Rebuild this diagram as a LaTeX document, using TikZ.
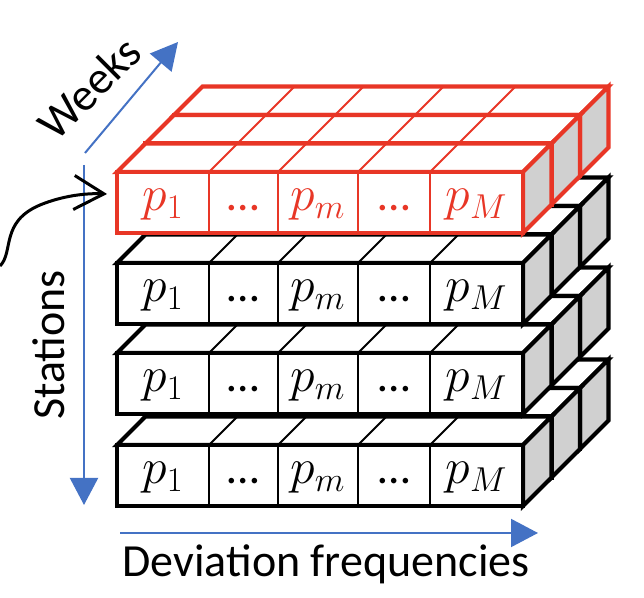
\documentclass[tikz,border=0pt]{standalone}
\usepackage{fontspec}
\setmainfont{Carlito}
\usepackage{xcolor}
\usepackage{tikz}
\usetikzlibrary{arrows.meta,positioning,calc}

\definecolor{slabred}{RGB}{232,54,38}
\definecolor{axisblue}{RGB}{68,114,196}
\definecolor{sidegray}{RGB}{208,208,208}

\begin{document}
\begin{tikzpicture}[
    x=0.5pt, y=-0.5pt,
    slabline/.style={line width=2.1pt},
    divider/.style={line width=1pt},
    axis/.style={draw=axisblue, line width=1pt, -{Triangle[length=13.5pt, width=14pt]}},
    cell/.style={font=\fontsize{23}{26}\selectfont, inner sep=0pt, anchor=base},
    axislabel/.style={font=\fontsize{23}{26}\selectfont, inner sep=0pt}
]
    \useasboundingbox (0,0) rectangle (644,598);

    % slabs, bottom to top, each one back to front
    \foreach \top/\col in {445/black, 353/black, 263/black, 172/slabred}{
        \foreach \k in {2,1,0}{
            \begin{scope}[shift={(28.5*\k,-28.5*\k)}, color=\col]
                \filldraw[fill=white, slabline] (117,\top) -- (523,\top) -- ++(28.5,-28.5) -- (145.5,\top-28.5) -- cycle;
                \foreach \x in {209,278,358,430}
                    \draw[divider] (\x,\top) -- ++(28.5,-28.5);
                \filldraw[fill=sidegray, slabline] (523,\top) -- ++(28.5,-28.5) -- ++(0,61) -- (523,\top+61) -- cycle;
                \filldraw[fill=white, slabline] (117,\top) rectangle (523,\top+61);
                \foreach \x in {209,278,358,430}
                    \draw[divider] (\x,\top) -- (\x,\top+61);
            \end{scope}
        }
    }

    % cell labels on the front rows
    \foreach \top/\col/\s in {172/slabred/1, 263/black/2, 353/black/3, 445/black/4}{
        \foreach \cx/\lab [count=\i] in {163/{$p_1$}, 243.5/{\ldots}, 318/{$p_m$}, 394/{\ldots}, 476.5/{$p_M$}}
            \node[cell, text=\col] (cell-\s-\i) at (\cx,\top+39) {\lab};
    }

    % axes
    \coordinate (wk-start) at (85,153);
    \coordinate (wk-end) at (178,42);
    \coordinate (st-start) at (84,165);
    \coordinate (st-end) at (84,505);
    \coordinate (df-start) at (120,533);
    \coordinate (df-end) at (538,533);
    \draw[axis] (wk-start) -- (wk-end);
    \draw[axis] (st-start) -- (st-end);
    \draw[axis] (df-start) -- (df-end);

    \node[axislabel, rotate=45] (weeks) at (89,88) {Weeks};
    \node[axislabel, rotate=90] (stations) at (49,345) {Stations};
    \node[axislabel, anchor=base] (devfreq) at (326,577) {Deviation frequencies};

    % pointer to the red row
    \coordinate (in-start) at (0,266);
    \coordinate (in-end) at (107,194);
    \draw[line width=1.5pt, -{Straight Barb[length=15pt, width=17pt]}]
        (in-start) .. controls (14,252) and (0,222) .. (40,205)
        .. controls (62,196) and (85,193) .. (in-end);
\end{tikzpicture}
\end{document}
